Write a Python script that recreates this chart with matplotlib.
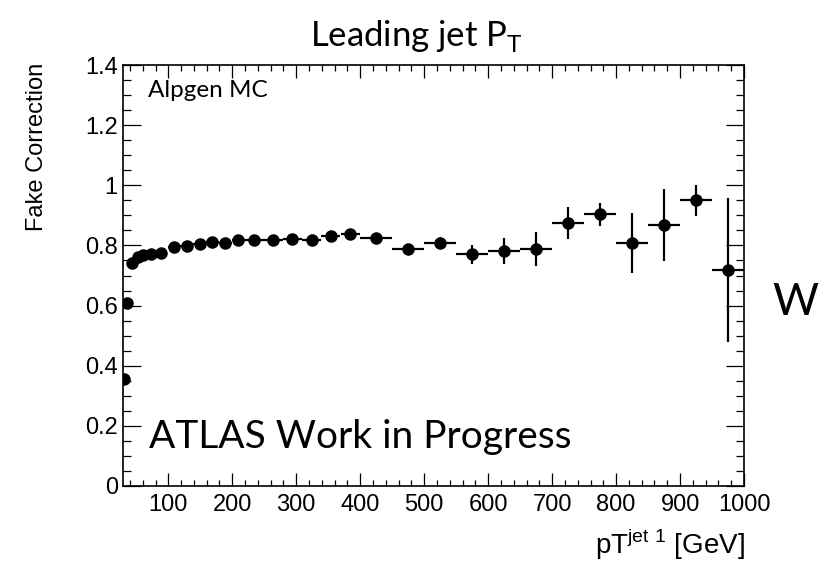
import matplotlib
matplotlib.use("Agg")
import matplotlib.pyplot as plt
from matplotlib.ticker import MultipleLocator, FuncFormatter

# Data
pt_center = [31, 36, 43, 52.5, 61, 72.5, 88, 109, 129, 149, 169, 189, 209, 234,
             264, 294, 324, 354, 384.5, 425, 475, 525, 575, 625, 675, 725, 775,
             825, 875, 925, 975]
pt_halfwidth = [1.5, 2.5, 4, 4.5, 4.5, 7, 9, 10, 10, 10, 10, 10, 10, 15,
                15, 15, 15, 15, 15, 25, 25, 25, 25, 25, 25, 25, 25,
                25, 25, 25, 25]
fake_corr = [0.356, 0.610, 0.741, 0.763, 0.768, 0.772, 0.776, 0.794, 0.799,
             0.805, 0.810, 0.809, 0.818, 0.817, 0.818, 0.820, 0.818, 0.831,
             0.838, 0.826, 0.789, 0.807, 0.770, 0.781, 0.787, 0.876, 0.903,
             0.807, 0.869, 0.950, 0.718]
fake_err = [0.003, 0.003, 0.003, 0.003, 0.003, 0.003, 0.003, 0.003, 0.004,
            0.004, 0.004, 0.005, 0.005, 0.005, 0.006, 0.007, 0.008, 0.009,
            0.010, 0.012, 0.015, 0.020, 0.032, 0.043, 0.057, 0.053, 0.039,
            0.100, 0.120, 0.051, 0.240]

fig = plt.figure(figsize=(8.28, 5.63), dpi=100)
ax = fig.add_axes([0.1482, 0.1368, 0.7504, 0.7477])

ax.errorbar(pt_center, fake_corr, xerr=pt_halfwidth, yerr=fake_err,
            fmt='o', color='black', markersize=8, elinewidth=1.6,
            capsize=0)

ax.set_xlim(28.7, 1000)
ax.set_ylim(0, 1.4)

ax.xaxis.set_major_locator(MultipleLocator(100))
ax.xaxis.set_minor_locator(MultipleLocator(20))
ax.yaxis.set_major_locator(MultipleLocator(0.2))
ax.yaxis.set_minor_locator(MultipleLocator(0.05))
ax.yaxis.set_major_formatter(FuncFormatter(lambda v, p: "%g" % round(v, 2)))
ax.xaxis.set_major_formatter(FuncFormatter(lambda v, p: "%d" % v))

ax.tick_params(axis='both', which='both', direction='in', top=True, right=True,
               width=0.9, colors='black')
ax.tick_params(axis='x', which='major', length=9.1, pad=6)
ax.tick_params(axis='x', which='minor', length=4.6)
ax.tick_params(axis='y', which='major', length=13, pad=3.5)
ax.tick_params(axis='y', which='minor', length=6)
for lab in ax.get_xticklabels() + ax.get_yticklabels():
    lab.set_fontfamily('Liberation Sans')
    lab.set_fontsize(17)
for s in ax.spines.values():
    s.set_linewidth(1.2)

geo = 'Lato'
fig.text(0.503, 0.918, r'Leading jet P$_\mathregular{T}$', fontsize=25,
         family=geo, ha='center', va='baseline')
ax.text(0.041, 0.924, 'Alpgen MC', transform=ax.transAxes, fontsize=17.5,
        family=geo, ha='left', va='baseline')
ax.text(0.043, 0.09, 'ATLAS Work in Progress', transform=ax.transAxes,
        fontsize=28, family=geo, ha='left', va='baseline')
fig.text(0.96, 0.44, 'W', fontsize=32, family=geo, ha='center',
         va='baseline')

fig.text(0.045, 0.888, 'Fake Correction', rotation=90, fontsize=17,
         family='Liberation Sans', ha='center', va='top')
fig.text(0.9, 0.016, r'pT$^{\mathregular{jet\ 1}}$ [GeV]', fontsize=20,
         family='Liberation Sans', ha='right', va='baseline')

fig.savefig('out.png', dpi=100)
